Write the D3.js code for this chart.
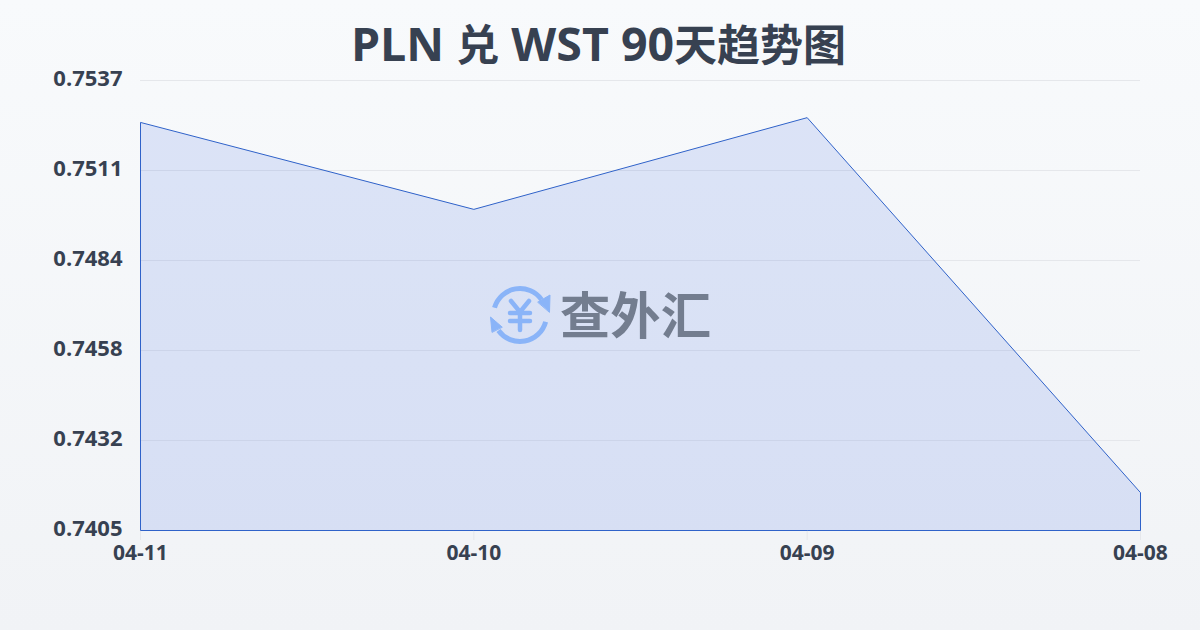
<!DOCTYPE html>
<html><head><meta charset="utf-8">
<script src="https://cdn.jsdelivr.net/npm/d3@7"></script>
<style>html,body{margin:0;padding:0}svg{display:block}
text{font-family:"Open Sans","Noto Sans CJK SC",sans-serif}</style></head>
<body><svg id="c" width="1200" height="630"></svg>
<script>
const titleParts=[["PLN ",46.5],["兑",43],[" WST 90",46.5],["天趋势图",43]];
const watermarkText="查外汇";
const categories=["04-11","04-10","04-09","04-08"];
const seriesValues=[0.75247,0.74992,0.75261,0.74161];
const yTicks=[0.7537,0.7511,0.7484,0.7458,0.7432,0.7405];
const yMin=0.7405,yMax=0.7537;
const svg=d3.select("#c");
const defs=svg.append("defs");
const bg=defs.append("linearGradient").attr("id","bg").attr("x1",0).attr("y1",0).attr("x2",0).attr("y2",1);
bg.append("stop").attr("offset",0).attr("stop-color","#f8fafc");
bg.append("stop").attr("offset",1).attr("stop-color","#f1f3f6");
svg.append("rect").attr("width",1200).attr("height",630).attr("fill","url(#bg)");
const x=d3.scalePoint().domain(categories).range([140.5,1140.5]);
const y=d3.scaleLinear().domain([yMin,yMax]).range([530.5,80.5]);
const yPos=(d,i)=>80.5+i*90;
svg.append("g").selectAll("line").data(yTicks).join("line")
 .attr("x1",140).attr("x2",1140).attr("y1",yPos).attr("y2",yPos)
 .attr("stroke","#e5e7eb").attr("stroke-width",1);
svg.append("g").selectAll("line").data(categories).join("line")
 .attr("x1",d=>x(d)).attr("x2",d=>x(d)).attr("y1",530).attr("y2",540)
 .attr("stroke","#e5e7eb").attr("stroke-width",1);
const pts=categories.map((c,i)=>({c,v:seriesValues[i]}));
const area=d3.area().x(d=>x(d.c)).y0(y(yMin)).y1(d=>y(d.v));
svg.append("path").datum(pts).attr("d",area)
 .attr("fill","rgba(37,84,225,0.13)").attr("stroke","#2f62c9").attr("stroke-width",1);
const t=svg.append("text").attr("x",598.5).attr("y",61).attr("text-anchor","middle")
 .attr("font-weight",700).attr("fill","#374151").attr("xml:space","preserve").style("white-space","pre");
t.selectAll("tspan").data(titleParts).join("tspan").attr("font-size",d=>d[1]).text(d=>d[0]);
svg.append("g").selectAll("text").data(yTicks).join("text")
 .attr("x",122.5).attr("y",(d,i)=>yPos(d,i)+5.5).attr("text-anchor","end")
 .attr("font-size",22).attr("font-weight",700).attr("fill","#374151").text(d=>d.toFixed(4));
svg.append("g").selectAll("text").data(categories).join("text")
 .attr("x",d=>x(d)).attr("y",560).attr("text-anchor","middle")
 .attr("font-size",21).attr("font-weight",700).attr("fill","#374151").text(d=>d);
// watermark
const wm=svg.append("g");
const ic=wm.append("g").attr("transform","translate(520,315)").attr("fill","none").attr("stroke","#8ab4f8").attr("stroke-linecap","round");
const arc=d3.arc().innerRadius(26.5).outerRadius(26.5);
ic.append("path").attr("d",arc({startAngle:-1.29,endAngle:0.95})).attr("stroke-width",5);
ic.append("path").attr("d",arc({startAngle:1.83,endAngle:4.09})).attr("stroke-width",5);
ic.append("path").attr("d","M18,-13L30,-20L29.5,-3Z").attr("fill","#8ab4f8").attr("stroke-width",1);
ic.append("path").attr("d","M-18,12L-29.5,2L-28,17Z").attr("fill","#8ab4f8").attr("stroke-width",1);
ic.append("path").attr("d","M-9,-14L0,-3L9,-14M-10,-2H10M-10,6H10M0,-3V15").attr("stroke-width",4.5);
wm.append("text").attr("x",560).attr("y",334).attr("font-size",50).attr("font-weight",700)
 .attr("textLength",151).attr("lengthAdjust","spacingAndGlyphs")
 .attr("fill","#737d8f").text(watermarkText);
</script></body></html>
